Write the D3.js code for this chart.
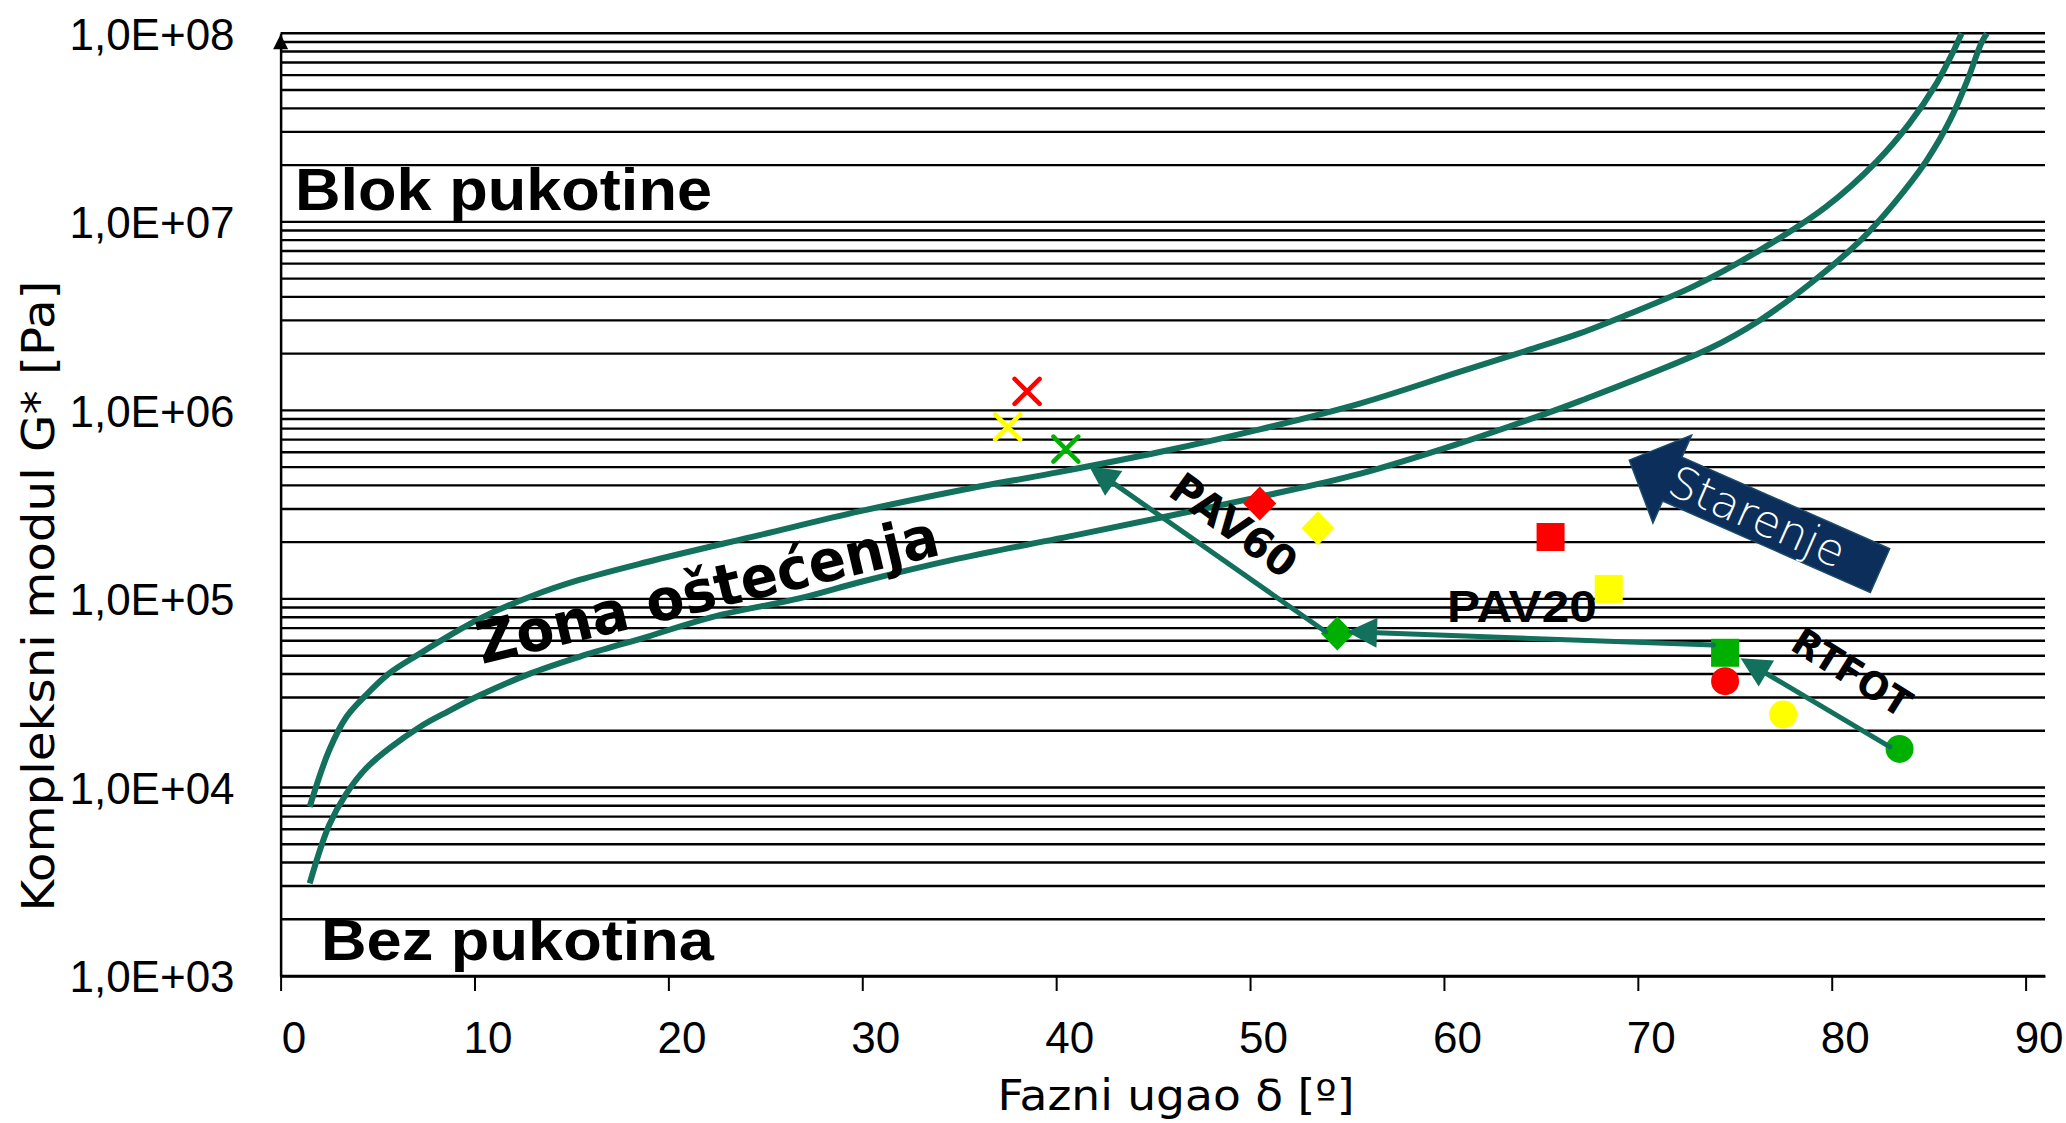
<!DOCTYPE html>
<html>
<head>
<meta charset="utf-8">
<script src="https://cdn.jsdelivr.net/npm/d3@7"></script>
<style>
  body { margin: 0; background: #fff; }
</style>
</head>
<body>
<svg id="chart" width="2066" height="1123"></svg>
<script>
// axis ticks
const degTicks = [0, 10, 20, 30, 40, 50, 60, 70, 80, 90];
const gTicks = [1e3, 1e4, 1e5, 1e6, 1e7, 1e8];

// boundary curves of the damage zone (phase angle [deg], G* [Pa])
const upperDelta = [1.5, 2.5, 3.4, 4.4, 5.6, 7.2, 8.9, 10.3, 12.9, 15.4, 18.9, 24.7, 29.9, 35.0, 40.2, 45.4, 50.5, 55.7, 60.8, 64.3, 67.0, 69.4, 72.9, 76.3, 79.7, 82.3, 84.0, 85.4, 86.3, 86.7];
const upperG = [7.9e3, 1.57e4, 2.37e4, 3.09e4, 4.03e4, 5.14e4, 6.56e4, 7.89e4, 1.03e5, 1.26e5, 1.57e5, 2.18e5, 2.92e5, 3.76e5, 4.72e5, 6.03e5, 7.93e5, 1.09e6, 1.6e6, 2.08e6, 2.56e6, 3.2e6, 4.56e6, 7.08e6, 1.2e7, 2.08e7, 3.32e7, 5.41e7, 8.13e7, 1.0e8];
const lowerDelta = [1.5, 2.5, 3.4, 4.4, 5.6, 7.2, 8.6, 10.3, 12.9, 15.4, 18.9, 22.3, 26.8, 29.9, 35.0, 41.2, 50.5, 55.7, 60.8, 64.3, 67.0, 73.7, 76.3, 78.9, 81.5, 83.2, 84.9, 86.1, 87.0, 87.7, 88.0];
const lowerG = [3.1e3, 6.3e3, 9.3e3, 1.26e4, 1.61e4, 2.1e4, 2.52e4, 3.09e4, 4.03e4, 4.93e4, 6.3e4, 8.04e4, 1.01e5, 1.23e5, 1.64e5, 2.2e5, 3.48e5, 4.62e5, 6.68e5, 8.87e5, 1.12e6, 2.13e6, 3.01e6, 4.71e6, 8.0e6, 1.25e7, 2.12e7, 3.46e7, 5.64e7, 8.81e7, 1.0e8];

// binders (red, yellow, green) at each ageing state
const binderColors = ["#ff0000", "#ffff00", "#00b000"];
const origDelta = [74.5, 77.5, 83.5];
const origG = [3.66e4, 2.44e4, 1.6e4];
const rtfotDelta = [65.5, 68.5, 74.5];
const rtfotG = [2.13e5, 1.13e5, 5.18e4];
const pav20Delta = [50.5, 53.5, 54.5];
const pav20G = [3.21e5, 2.37e5, 6.56e4];
const pav60Delta = [38.5, 37.5, 40.5];
const pav60G = [1.26e6, 8.17e5, 6.23e5];

// ageing path arrows (from -> to)
const arrowFromDelta = [83.0, 73.9, 53.9];
const arrowFromG = [1.64e4, 5.69e4, 6.7e4];
const arrowToDelta = [75.3, 55.0, 41.7];
const arrowToG = [4.85e4, 6.7e4, 5.06e5];

const teal = "#12705c";
const svg = d3.select("#chart");
const x = d3.scaleLinear().domain([0, 91]).range([280.6, 2045]);
const y = d3.scaleLog().domain([1e3, 1e8]).range([976, 33.3]);

// minor log grid
const gridVals = [];
for (let e = 3; e < 8; e++) for (let m = 1; m < 10; m++) gridVals.push(m * 10 ** e);
gridVals.push(1e8);
svg.append("g")
  .selectAll("line")
  .data(gridVals)
  .join("line")
  .attr("x1", x(0))
  .attr("x2", x(91))
  .attr("y1", (d) => y(d))
  .attr("y2", (d) => y(d))
  .attr("stroke", "#000")
  .attr("stroke-width", 2.4);

// axes
const yAxis = svg.append("g")
  .attr("transform", `translate(${x(0)},0)`)
  .call(d3.axisLeft(y).tickValues(gTicks).tickSize(0).tickSizeOuter(0).tickPadding(46)
    .tickFormat((d) => "1,0E+0" + Math.round(Math.log10(d))));
const xAxis = svg.append("g")
  .attr("transform", `translate(0,${y(1e3)})`)
  .call(d3.axisBottom(x).tickValues(degTicks).tickSize(15).tickSizeOuter(0));
[yAxis, xAxis].forEach((a) => {
  a.select(".domain").attr("stroke", "#000").attr("stroke-width", 2.5);
  a.selectAll(".tick line").attr("stroke", "#000").attr("stroke-width", 2);
  a.selectAll("text")
    .attr("font-family", "Liberation Sans, Arial, sans-serif")
    .attr("font-size", 44)
    .attr("fill", "#000");
});
xAxis.selectAll("text").attr("y", 77).attr("dy", 0).attr("dx", 13);
yAxis.selectAll("text").attr("dy", "0.36em");
// arrow tip on the y axis
svg.append("path")
  .attr("d", `M${x(0)},${y(1e8) + 1}l-7.5,15h15z`)
  .attr("fill", "#000");

// axis titles
svg.append("text")
  .attr("transform", "translate(54,596) rotate(-90)")
  .attr("text-anchor", "middle")
  .attr("font-family", "DejaVu Sans, sans-serif")
  .attr("font-size", 44)
  .attr("textLength", 631)
  .attr("lengthAdjust", "spacingAndGlyphs")
  .text("Kompleksni modul G* [Pa]");
svg.append("text")
  .attr("x", 1176)
  .attr("y", 1110)
  .attr("text-anchor", "middle")
  .attr("font-family", "DejaVu Sans, sans-serif")
  .attr("font-size", 42)
  .attr("textLength", 357)
  .attr("lengthAdjust", "spacingAndGlyphs")
  .text("Fazni ugao δ [º]");

// boundary curves
const line = d3.line().x((d) => x(d[0])).y((d) => y(d[1])).curve(d3.curveCatmullRom.alpha(0.5));
[[upperDelta, upperG], [lowerDelta, lowerG]].forEach(([dx, gy]) => {
  svg.append("path")
    .datum(dx.map((d, i) => [d, gy[i]]))
    .attr("d", line)
    .attr("fill", "none")
    .attr("stroke", teal)
    .attr("stroke-width", 6);
});

// markers
const mk = svg.append("g");
origDelta.forEach((d, i) => {
  mk.append("circle").attr("cx", x(d)).attr("cy", y(origG[i])).attr("r", 14)
    .attr("fill", binderColors[i]);
});
rtfotDelta.forEach((d, i) => {
  mk.append("rect").attr("x", x(d) - 14).attr("y", y(rtfotG[i]) - 14)
    .attr("width", 28).attr("height", 28).attr("fill", binderColors[i]);
});
pav20Delta.forEach((d, i) => {
  mk.append("path")
    .attr("d", `M${x(d)},${y(pav20G[i]) - 17}l16.5,17l-16.5,17l-16.5,-17z`)
    .attr("fill", binderColors[i]);
});
pav60Delta.forEach((d, i) => {
  mk.append("path")
    .attr("d", `M${x(d) - 12.5},${y(pav60G[i]) - 12.5}l25,25m0,-25l-25,25`)
    .attr("stroke", binderColors[i])
    .attr("stroke-width", 4.5)
    .attr("stroke-linecap", "round");
});

// ageing arrows
arrowFromDelta.forEach((d, i) => {
  const x0 = x(d), y0 = y(arrowFromG[i]);
  const x1 = x(arrowToDelta[i]), y1 = y(arrowToG[i]);
  const a = Math.atan2(y1 - y0, x1 - x0);
  const hl = 30, hw = 15;
  const bx = x1 - hl * Math.cos(a), by = y1 - hl * Math.sin(a);
  svg.append("line")
    .attr("x1", x0).attr("y1", y0).attr("x2", bx).attr("y2", by)
    .attr("stroke", teal).attr("stroke-width", 5).attr("stroke-linecap", "round");
  svg.append("path")
    .attr("d", `M${x1},${y1}L${bx - hw * Math.sin(a)},${by + hw * Math.cos(a)}L${bx + hw * Math.sin(a)},${by - hw * Math.cos(a)}Z`)
    .attr("fill", teal);
});

// "Starenje" block arrow
const st = svg.append("g")
  .attr("transform", `translate(${x(69.56)},${y(5.45e5)}) rotate(23.8)`);
st.append("path")
  .attr("d", "M0,0L47,-48L47,-24L274,-24L274,24L47,24L47,48Z")
  .attr("fill", "#0b2e5b")
  .attr("stroke", "#1d4a6a")
  .attr("stroke-width", 1.5);
st.append("text")
  .attr("x", 140)
  .attr("y", 0)
  .attr("dy", "0.35em")
  .attr("text-anchor", "middle")
  .attr("font-family", "DejaVu Sans, sans-serif")
  .attr("font-weight", 300)
  .attr("font-size", 44)
  .attr("fill", "#fff")
  .attr("textLength", 188)
  .attr("lengthAdjust", "spacingAndGlyphs")
  .text("Starenje");

// annotations
const note = (txt, tx, size, len, opts = {}) =>
  svg.append("text")
    .attr("transform", tx)
    .attr("text-anchor", opts.anchor || "start")
    .attr("font-family", opts.family || "Liberation Sans, Arial, sans-serif")
    .attr("font-weight", opts.weight || "normal")
    .attr("font-size", size)
    .attr("textLength", len)
    .attr("lengthAdjust", "spacingAndGlyphs")
    .attr("dy", opts.dy || 0)
    .text(txt);

note("Blok pukotine", "translate(295,210)", 60, 417, { weight: "bold" });
note("Bez pukotina", "translate(321,960)", 58, 393, { weight: "bold" });
note("Zona oštećenja", "translate(482,664) rotate(-13.4)", 58, 473,
  { family: "DejaVu Sans, sans-serif", weight: "bold" });
note("PAV60", "translate(1234,525) rotate(36)", 42, 145,
  { family: "DejaVu Sans, sans-serif", weight: "bold", anchor: "middle", dy: "0.36em" });
note("PAV20", "translate(1447,622)", 44, 150, { weight: "bold" });
note("RTFOT", "translate(1852,672) rotate(32)", 38, 132,
  { family: "DejaVu Sans, sans-serif", weight: "bold", anchor: "middle", dy: "0.36em" });
</script>
</body>
</html>
